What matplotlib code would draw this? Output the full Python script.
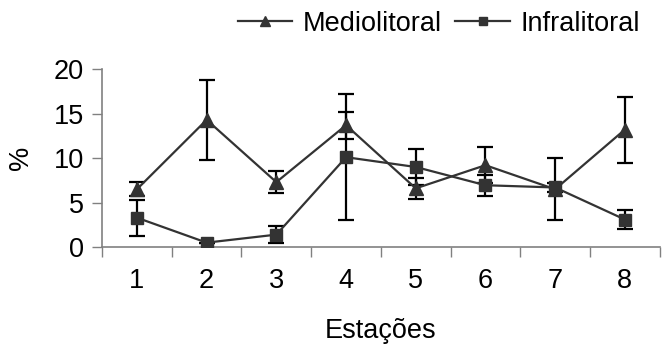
import matplotlib
matplotlib.use("Agg")
import matplotlib.pyplot as plt
import numpy as np

plt.rcParams['font.family'] = ['Liberation Sans', 'DejaVu Sans']

estacoes = [1, 2, 3, 4, 5, 6, 7, 8]
medio = [6.5, 14.3, 7.3, 13.7, 6.6, 9.2, 6.5, 13.2]
medio_err = [0.8, 4.5, 1.2, 1.5, 1.2, 2.0, 3.5, 3.7]
infra = [3.3, 0.5, 1.4, 10.1, 9.0, 6.95, 6.7, 3.1]
infra_err = [2.0, 0.0, 0.95, 7.05, 2.0, 1.2, 0.5, 1.1]

FS = 19.5

fig = plt.figure(figsize=(6.63, 3.49), dpi=100)
ax = fig.add_axes([0.154, 0.292, 0.841, 0.51])

x = np.array(estacoes)
for y, e, m, lab in [(medio, medio_err, '^', 'Mediolitoral'),
                      (infra, infra_err, 's', 'Infralitoral')]:
    ax.errorbar(x, y, yerr=e, fmt='none', ecolor='black', elinewidth=1.6,
                capsize=5.5, capthick=1.6, zorder=2)
    ax.plot(x, y, color='#333333', lw=1.6, marker=m, markersize=10 if m == '^' else 9,
            markerfacecolor='#333333', markeredgecolor='#333333', label=lab, zorder=3)

ax.set_xlim(0.5, 8.5)
ax.set_ylim(0, 20)
ax.set_yticks([0, 5, 10, 15, 20])
ax.set_xticks(x)
ax.set_xticks(np.arange(0.5, 9.0, 1.0), minor=True)
ax.tick_params(axis='x', which='major', length=0, pad=15, labelsize=FS)
ax.tick_params(axis='x', which='minor', length=7, width=1, color='#808080', direction='out')
ax.tick_params(axis='y', length=7, width=1, color='#808080', labelsize=FS, pad=6)
for s in ['top', 'right']:
    ax.spines[s].set_visible(False)
for s in ['left', 'bottom']:
    ax.spines[s].set_color('#808080')
    ax.spines[s].set_linewidth(1.2)
ax.set_xlabel('Estações', fontsize=FS, labelpad=17)
ax.set_ylabel('%', fontsize=FS, labelpad=14)

fig.legend(loc='center', bbox_to_anchor=(0.662, 0.932), ncol=2, frameon=False,
           fontsize=FS, handlelength=2.0, handletextpad=0.4, columnspacing=0.5,
           markerscale=0.65)

fig.savefig('out.png', dpi=100)
